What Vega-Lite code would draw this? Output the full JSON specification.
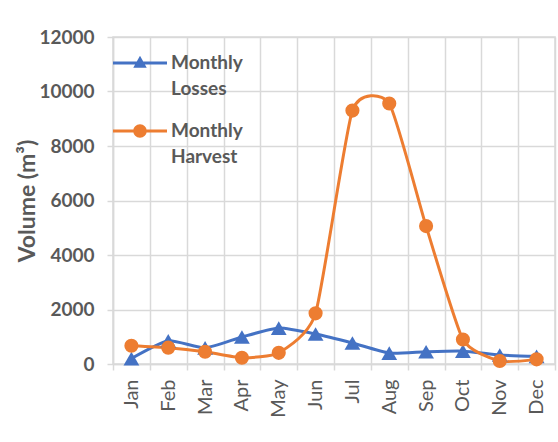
{
  "$schema": "https://vega.github.io/schema/vega-lite/v6.json",
  "width": 442,
  "height": 327,
  "autosize": {"type": "none"},
  "padding": {"left": 113, "top": 37, "right": 3, "bottom": 78},
  "background": "white",
  "config": {
    "view": {"stroke": "#d9d9d9", "strokeWidth": 1.5},
    "font": "Lato"
  },
  "data": {
    "values": [
      {"month": "Jan", "series": "Monthly Losses", "value": 200},
      {"month": "Feb", "series": "Monthly Losses", "value": 850},
      {"month": "Mar", "series": "Monthly Losses", "value": 590},
      {"month": "Apr", "series": "Monthly Losses", "value": 990},
      {"month": "May", "series": "Monthly Losses", "value": 1320},
      {"month": "Jun", "series": "Monthly Losses", "value": 1100},
      {"month": "Jul", "series": "Monthly Losses", "value": 770},
      {"month": "Aug", "series": "Monthly Losses", "value": 400},
      {"month": "Sep", "series": "Monthly Losses", "value": 450},
      {"month": "Oct", "series": "Monthly Losses", "value": 470},
      {"month": "Nov", "series": "Monthly Losses", "value": 330},
      {"month": "Dec", "series": "Monthly Losses", "value": 280},
      {"month": "Jan", "series": "Monthly Harvest", "value": 670},
      {"month": "Feb", "series": "Monthly Harvest", "value": 600},
      {"month": "Mar", "series": "Monthly Harvest", "value": 450},
      {"month": "Apr", "series": "Monthly Harvest", "value": 230},
      {"month": "May", "series": "Monthly Harvest", "value": 410},
      {"month": "Jun", "series": "Monthly Harvest", "value": 1860},
      {"month": "Jul", "series": "Monthly Harvest", "value": 9300},
      {"month": "Aug", "series": "Monthly Harvest", "value": 9560},
      {"month": "Sep", "series": "Monthly Harvest", "value": 5060},
      {"month": "Oct", "series": "Monthly Harvest", "value": 900},
      {"month": "Nov", "series": "Monthly Harvest", "value": 110},
      {"month": "Dec", "series": "Monthly Harvest", "value": 170}
    ]
  },
  "encoding": {
    "x": {
      "field": "month",
      "type": "ordinal",
      "sort": ["Jan","Feb","Mar","Apr","May","Jun","Jul","Aug","Sep","Oct","Nov","Dec"],
      "scale": {"type": "band", "paddingInner": 0, "paddingOuter": 0},
      "axis": {
        "title": null,
        "tickBand": "extent",
        "grid": true,
        "gridColor": "#d9d9d9",
        "gridWidth": 1.5,
        "domainColor": "#d9d9d9",
        "domainWidth": 1.5,
        "tickColor": "#d9d9d9",
        "tickWidth": 1.5,
        "tickSize": 6,
        "labelAngle": -90,
        "labelFont": "Lato",
        "labelFontSize": 20,
        "labelColor": "#595959",
        "labelPadding": 9
      }
    },
    "y": {
      "field": "value",
      "type": "quantitative",
      "scale": {"domain": [0, 12000], "nice": false, "zero": true},
      "axis": {
        "title": "Volume (m³)",
        "titleFont": "Lato",
        "titleFontSize": 23,
        "titleFontWeight": "bold",
        "titleColor": "#595959",
        "titleX": -74,
        "values": [0, 2000, 4000, 6000, 8000, 10000, 12000],
        "format": "d",
        "grid": true,
        "gridColor": "#d9d9d9",
        "gridWidth": 1.5,
        "domainColor": "#d9d9d9",
        "domainWidth": 1.5,
        "tickColor": "#d9d9d9",
        "tickWidth": 1.5,
        "tickSize": 6,
        "labelFont": "Lato",
        "labelFontSize": 19,
        "labelFontWeight": "bold",
        "labelColor": "#595959",
        "labelPadding": 13
      }
    },
    "color": {
      "field": "series",
      "type": "nominal",
      "scale": {"domain": ["Monthly Losses", "Monthly Harvest"], "range": ["#4472C4", "#ED7D31"]},
      "legend": {
        "orient": "none",
        "legendX": 0,
        "legendY": -1,
        "title": null,
        "padding": 0,
        "symbolSize": 2916,
        "symbolStrokeWidth": 0,
        "labelFont": "Lato",
        "labelFontSize": 19,
        "labelFontWeight": "bold",
        "labelColor": "#595959",
        "labelOffset": 4,
        "labelLimit": 200,
        "rowPadding": 5,
        "labelBaseline": "middle",
        "labelExpr": "split(datum.label, ' ')",
        "encode": {
          "symbols": {
            "update": {
              "shape": {"signal": "datum.value === 'Monthly Losses' ? 'M-1,-0.06L1,-0.06L1,0.06L-1,0.06Z M0,-0.27L0.25,0.18L-0.25,0.18Z' : 'M-1,-0.06L1,-0.06L1,0.06L-1,0.06Z M-0.25,0A0.25,0.25 0 1,1 0.25,0A0.25,0.25 0 1,1 -0.25,0Z'"},
              "fill": {"signal": "datum.value === 'Monthly Losses' ? '#4472C4' : '#ED7D31'"},
              "stroke": {"value": "transparent"},
              "opacity": {"value": 1},
              "fillOpacity": {"value": 1}
            }
          },
          "labels": {
            "update": {"lineHeight": {"value": 26}}
          }
        }
      }
    }
  },
  "layer": [
    {
      "mark": {"type": "line", "interpolate": "cardinal", "tension": 0.45, "strokeWidth": 3}
    },
    {
      "transform": [{"filter": "datum.series === 'Monthly Losses'"}],
      "mark": {"type": "point", "filled": true, "opacity": 1, "shape": "triangle-up", "size": 250}
    },
    {
      "transform": [{"filter": "datum.series === 'Monthly Harvest'"}],
      "mark": {"type": "point", "filled": true, "opacity": 1, "shape": "circle", "size": 200}
    }
  ]
}
